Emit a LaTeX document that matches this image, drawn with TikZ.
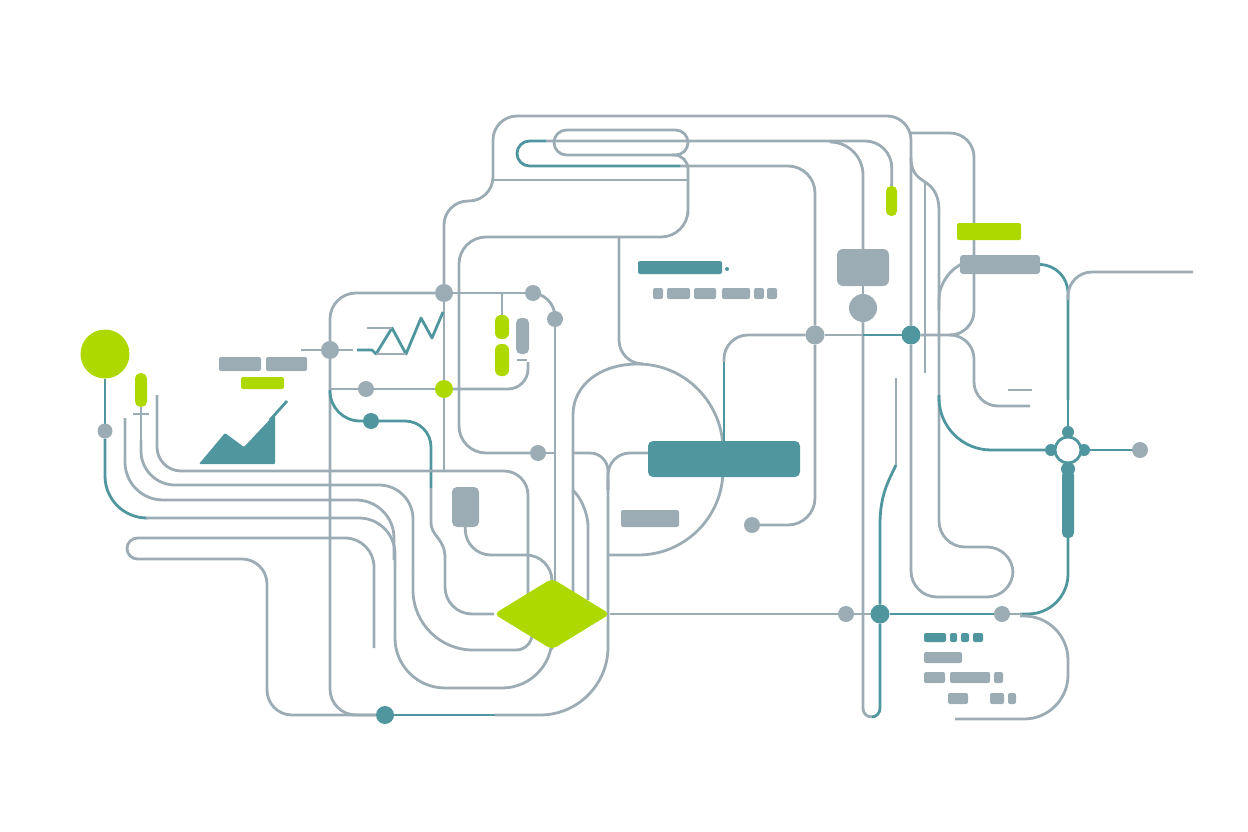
\documentclass[tikz,border=0pt]{standalone}
\usetikzlibrary{backgrounds,shapes.geometric}
\definecolor{slategrey}{rgb}{0.61,0.675,0.705}
\definecolor{deepteal}{rgb}{0.31,0.59,0.62}
\definecolor{leaflime}{rgb}{0.68,0.85,0}
\begin{document}
\begin{tikzpicture}[
    x=1pt, y=-1pt,
    every node/.style={inner sep=0pt, outer sep=0pt},
    wire/.style={draw=slategrey, line width=2.8pt},
    twire/.style={draw=deepteal, line width=2.8pt},
    gdot/.style={circle, fill=slategrey, minimum size=#1},
    tdot/.style={circle, fill=deepteal, minimum size=#1},
    gbox/.style 2 args={rectangle, fill=slategrey, rounded corners=2pt, minimum width=#1, minimum height=#2},
    tbox/.style 2 args={rectangle, fill=deepteal, rounded corners=2pt, minimum width=#1, minimum height=#2},
    lbox/.style 2 args={rectangle, fill=leaflime, rounded corners=2pt, minimum width=#1, minimum height=#2}
  ]
  \useasboundingbox (0,0) rectangle (1248,832);

  % junction dots
  \node[gdot=18pt] (gate) at (444,293) {};
  \node[gdot=18pt] (tap) at (330,350) {};
  \node[gdot=16pt] (midl) at (366,389) {};
  \node[gdot=16pt] (gatea) at (533,293) {};
  \node[gdot=16pt] (gateb) at (555,319) {};
  \node[gdot=16pt] (ret) at (538,453) {};
  \node[gdot=19pt] (busa) at (815,335) {};
  \node[gdot=16pt] (feed) at (752,525) {};
  \node[gdot=16pt] (lowa) at (846,614) {};
  \node[gdot=16pt] (lowb) at (1002,614) {};
  \node[gdot=16pt] (east) at (1140,450) {};
  \node[gdot=15pt] (probe) at (105,431) {};
  \node[gdot=28pt] (bulb) at (863,308) {};
  \node[tdot=19pt] (busb) at (911,335) {};
  \node[tdot=16pt] (bend) at (371,421) {};
  \node[tdot=18pt] (foot) at (385,715) {};
  \node[tdot=19pt] (lowt) at (880,614) {};
  \node[circle, fill=leaflime, minimum size=18pt] (mark) at (444,389) {};
  \node[circle, fill=leaflime, minimum size=49pt] (source) at (105,354) {};

  % left chart and its labels
  \node[gbox={42pt}{14pt}] (laba) at (240,364) {};
  \node[gbox={41pt}{14pt}] (labb) at (286.5,364) {};
  \node[lbox={43pt}{12pt}] (labc) at (262.5,383) {};
  \node[lbox={12pt}{34pt}, rounded corners=5.5pt] (pin) at (141,390) {};
  \fill[deepteal, rounded corners=1pt] (199,464) -- (225,433) -- (244,447) -- (275,414) -- (275,464) -- cycle;
  \draw[twire] (270,420) -- (287,401);

  % capsules
  \node[lbox={14pt}{24pt}, rounded corners=6pt] (capa) at (502,327) {};
  \node[lbox={14pt}{32pt}, rounded corners=6pt] (capb) at (502,360) {};
  \node[gbox={13pt}{36pt}, rounded corners=5pt] (capc) at (522.5,336) {};
  \node[lbox={11pt}{30pt}, rounded corners=5pt] (capd) at (891.5,201) {};
  \node[wire, draw, rounded corners=12.5pt, minimum width=134pt, minimum height=25pt] (loop) at (621,142.5) {};

  % centre blocks
  \node[tbox={84pt}{13pt}] (head) at (680,267.5) {};
  \node[tdot=4pt] (headdot) at (727,269) {};
  \foreach \x/\w in {658/10, 678.5/23, 705/22, 736/28, 759/10, 772/10}
    \node[gbox={\w pt}{11pt}] (sub\x) at (\x,293.5) {};
  \node[tbox={152pt}{36pt}, rounded corners=5pt] (core) at (724,459) {};
  \node[gbox={58pt}{17pt}] (tag) at (650,518.5) {};
  \node[gbox={27pt}{40pt}, rounded corners=5pt] (plug) at (465.5,507) {};
  \node[gbox={52pt}{37pt}, rounded corners=6pt] (tank) at (863,267.5) {};
  \node[diamond, aspect=1.65, fill=leaflime, rounded corners=5pt, minimum width=116pt, minimum height=71pt] (lozenge) at (552,614) {};

  % right blocks
  \node[lbox={64pt}{17pt}] (railc) at (989,231.5) {};
  \node[gbox={80pt}{19pt}, rounded corners=3pt] (rail) at (1000,264.5) {};
  \foreach \x/\y in {1068/432, 1051/450, 1084/450}
    \node[tdot=12pt] (lobe\x) at (\x,\y) {};
  \node[tdot=14pt] (lobe) at (1068,469) {};
  \node[tbox={12pt}{68pt}, rounded corners=5pt] (stem) at (1068,504) {};
  \node[circle, draw=deepteal, line width=2.8pt, fill=white, minimum size=26pt] (hub) at (1068,450) {};

  % lower right rows
  \foreach \x/\w in {935/22, 953.5/7, 965/8, 978/10}
    \node[tbox={\w pt}{9pt}] (rowa\x) at (\x,637.5) {};
  \node[gbox={38pt}{11pt}] (rowb) at (943,657.5) {};
  \foreach \x/\w in {934.5/21, 970/40, 998.5/9}
    \node[gbox={\w pt}{11pt}] (rowc\x) at (\x,677.5) {};
  \foreach \x/\w in {958/20, 997/14, 1012/8}
    \node[gbox={\w pt}{11pt}] (rowd\x) at (\x,698.5) {};

  \begin{scope}[on background layer]
    % top frame
    \draw[wire, rounded corners=24pt] (gate) -- (444,201) -- (493,201) -- (493,116) -- (911,116) -- (busb);
    \draw[wire, rounded corners=26pt] (busb) -- (911,597) -- (1013,597) -- (1013,547) -- (939,547) -- (939,210);
    \draw[wire] (939,210) .. controls (939,195) and (933,187) .. (925,182) .. controls (920,178) and (911,175) .. (911,158);
    \draw[wire, rounded corners=27pt] (939,310) -- (939,272) -- (rail.west);
    \draw[wire] (925,182) -- (925,373);
    \draw[wire] (493,180) -- (688,180);
    \draw[wire, rounded corners=14pt] (672,155) -- (688,155) -- (688,200) [rounded corners=27pt] -- (688,237) -- (459,237) -- (459,453) -- (ret);
    \draw[wire] (ret) -- (555,453);
    \draw[twire, rounded corners=12.5pt] (546,141) -- (517,141) -- (517,166) -- (680,166);
    \draw[wire, rounded corners=27pt] (680,166) -- (815,166) -- (busa);
    \draw[wire, rounded corners=27pt] (busa) -- (815,525) -- (feed);
    \draw[wire, rounded corners=27pt] (546,141) -- (892,141) -- (capd);
    \draw[wire, rounded corners=33pt] (830,142) -- (863,142) -- (tank);
    \draw[wire] (tank) -- (bulb);
    \draw[wire, rounded corners=8.5pt] (bulb) -- (863,717) -- (871.5,717);
    \draw[twire, rounded corners=8.5pt] (871.5,717) -- (880,717) -- (lowt);
    \draw[twire] (896,465) .. controls (888,482) and (880,495) .. (880,525) -- (lowt);
    \draw[wire] (896,378) -- (896,465);
    \draw[draw=deepteal, line width=2.8pt, opacity=.45] (570,130) -- (665,130);

    % round chamber
    \draw[wire, rounded corners=24pt] (619,237) -- (619,364) -- (643,364);
    \draw[wire] (573,600) -- (573,415) .. controls (573,385) and (600,364) .. (638,364)
      .. controls (685,364) and (723,403) .. (723,450) -- (723,470) .. controls (723,517) and (685,555) .. (638,555) -- (608,555);
    \draw[wire, rounded corners=18pt] (573,453) -- (608,453) -- (608,490);
    \draw[wire, rounded corners=22pt] (648,453) -- (608,453) -- (608,490);
    \draw[wire, rounded corners=68pt] (608,480) -- (608,715) -- (495,715);
    \draw[twire] (foot) -- (495,715);
    \draw[wire, rounded corners=18pt] (573,490) -- (588,508) -- (588,600);
    \draw[twire] (core) -- (724,360);
    \draw[wire, rounded corners=24pt] (724,362) -- (724,335) -- (busa);

    % right side
    \draw[wire] (busa) -- (bulb |- busa);
    \draw[twire] (bulb |- busa) -- (busb);
    \draw[wire, rounded corners=24pt] (busb) -- (974,335) -- (974,133) -- (911,133);
    \draw[wire, rounded corners=24pt] (950,335) -- (974,335) -- (974,406) -- (1030,406);
    \draw[wire] (1008,390) -- (1032,390);
    \draw[twire, rounded corners=52pt] (939,395) -- (939,450) -- (lobe1051);
    \draw[twire, rounded corners=28pt] (rail.east) -- (1068,265) -- (1068,400);
    \draw[twire] (1068,290) -- (lobe1068);
    \draw[wire, rounded corners=24pt] (1193,272) -- (1068,272) -- (1068,300);
    \draw[twire] (lobe1084) -- (east);
    \draw[twire, rounded corners=40pt] (stem) -- (1068,614) -- (1020,614);
    \draw[wire, rounded corners=44pt] (1020,616) -- (1068,616) -- (1068,719) -- (955,719);
    \draw[wire] (lowb) -- (1022,614);

    % lower bus
    \draw[wire] (lozenge.east) -- (lowa);
    \draw[wire] (lowa) -- (lowt);
    \draw[twire] (lowt) -- (lowb);

    % left frame
    \draw[wire, rounded corners=26pt] (tap) -- (330,293) -- (gate);
    \draw[wire, rounded corners=26pt] (tap) -- (330,715) -- (foot);
    \draw[wire] (301,350) -- (tap);
    \draw[wire] (tap) -- (353,350);
    \draw[wire] (gate) -- (gatea);
    \draw[wire, rounded corners=24pt] (gatea) -- (555,293) -- (gateb);
    \draw[wire] (gateb) -- (555,600);
    \draw[wire] (gate) -- (mark);
    \draw[wire] (mark) -- (444,471);
    \draw[wire] (502,293) -- (capa);
    \draw[wire] (330,389) -- (midl);
    \draw[wire] (midl) -- (mark);
    \draw[wire, rounded corners=20pt] (mark) -- (528,389) -- (528,362);
    \draw[wire] (517,360) -- (527,360);

    % zigzag trace
    \draw[twire, line join=round] (357,350) -- (372,350) -- (376,354) -- (392,328) -- (406,354) -- (421,318) -- (432,338) -- (443,312);
    \draw[wire] (367,328) -- (392,328);
    \draw[wire] (376,354) -- (406,354);

    % teal branch to the plug side
    \draw[twire, rounded corners=30pt] (330,390) -- (330,421) -- (bend);
    \draw[twire, rounded corners=26pt] (bend) -- (431,421) -- (431,488);
    \draw[wire] (431,488) -- (431,522) .. controls (431,537) and (445,538) .. (445,558);
    \draw[wire, rounded corners=27pt] (445,558) -- (445,614) -- (lozenge.west);

    % left fan
    \draw[twire] (source) -- (probe);
    \draw[twire, rounded corners=42pt] (probe) -- (105,518) -- (146,518);
    \draw[wire, rounded corners=36pt] (146,518) -- (395,518) -- (395,600);
    \draw[wire, rounded corners=50pt] (395,600) -- (395,688) -- (552,688) -- (lozenge.south);
    \draw[wire, rounded corners=38pt] (125,418) -- (125,500) -- (394,500) -- (394,560);
    \draw[wire] (pin) -- (141,440);
    \draw[wire] (133,414) -- (149,414);
    \draw[wire, rounded corners=34pt] (141,440) -- (141,485) -- (413,485) -- (413,570);
    \draw[wire, rounded corners=60pt] (413,570) -- (413,650) -- (500,650);
    \draw[wire, rounded corners=16pt] (500,650) -- (532,650) -- (532,630);
    \draw[wire, rounded corners=24pt] (157,395) -- (157,471) -- (528,471) -- (528,600);
    \draw[wire, rounded corners=26pt] (plug) -- (465,555) -- (552,555) -- (lozenge.north);

    % lower left tail
    \draw[wire, rounded corners=29pt] (374,648) -- (374,538) -- (300,538);
    \draw[wire, rounded corners=10.5pt] (300,538) -- (127,538) -- (127,559) -- (200,559);
    \draw[wire, rounded corners=25pt] (200,559) -- (267,559) -- (267,715) -- (foot);
  \end{scope}
\end{tikzpicture}
\end{document}
